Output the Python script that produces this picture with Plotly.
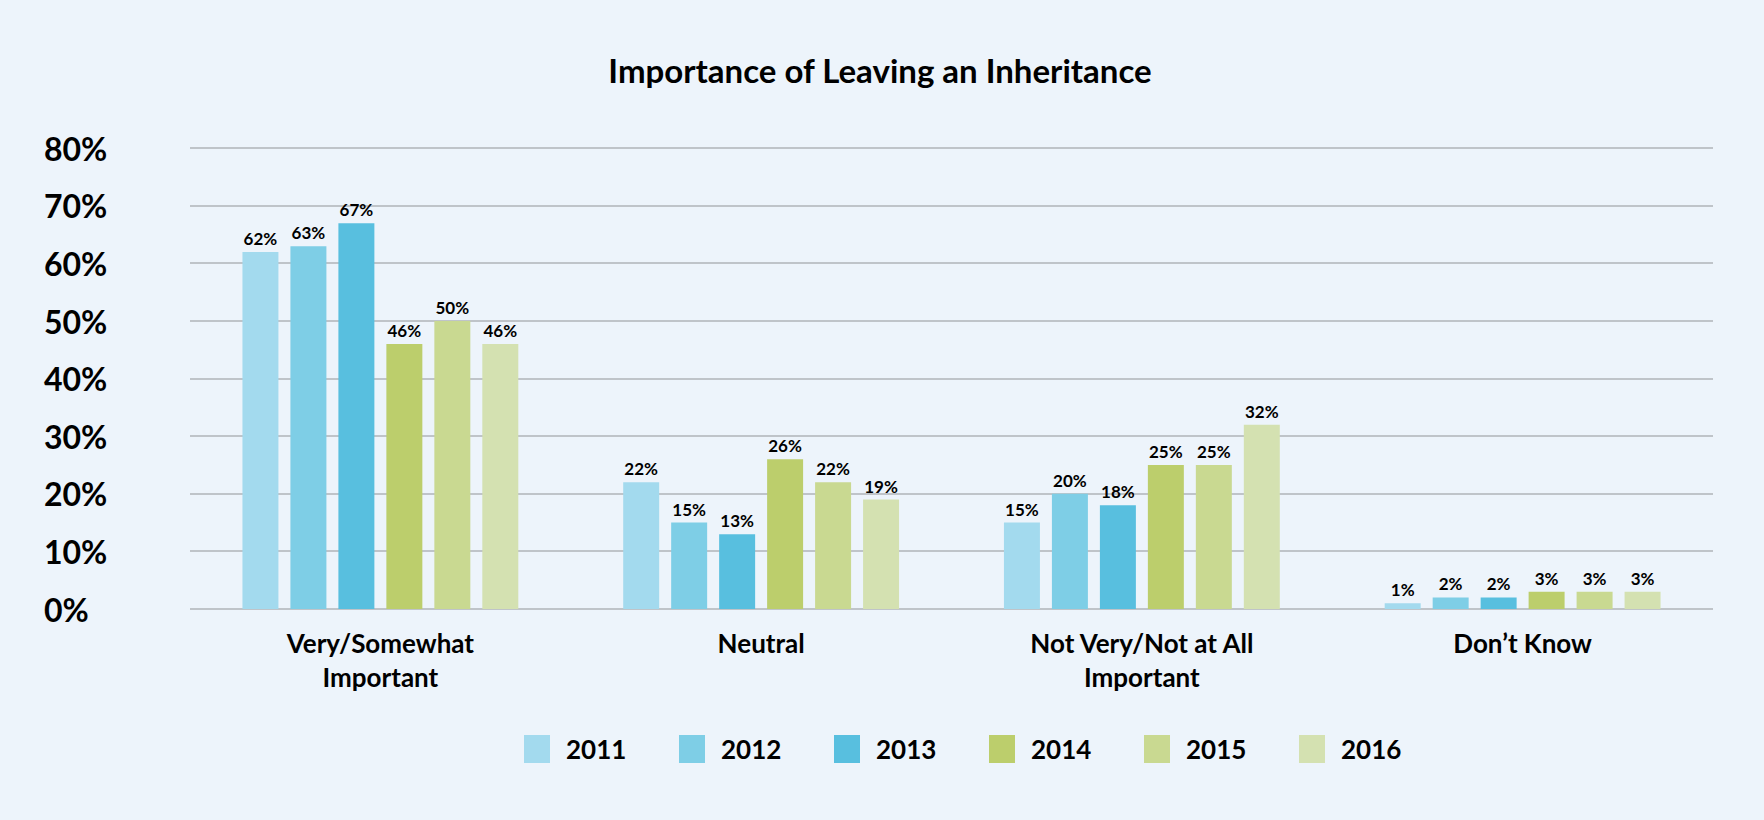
import plotly.graph_objects as go

categories = ["Very/Somewhat<br>Important", "Neutral", "Not Very/Not at All<br>Important", "Don’t Know"]
years = ["2011", "2012", "2013", "2014", "2015", "2016"]
v2011 = [62, 22, 15, 1]
v2012 = [63, 15, 20, 2]
v2013 = [67, 13, 18, 2]
v2014 = [46, 26, 25, 3]
v2015 = [50, 22, 25, 3]
v2016 = [46, 19, 32, 3]
series = [v2011, v2012, v2013, v2014, v2015, v2016]
colors = ["#A3DAEE", "#7ECEE6", "#58BFDF", "#BCCE6C", "#C9D991", "#D4E1B1"]
ytick_vals = [0, 10, 20, 30, 40, 50, 60, 70, 80]
ytick_text = ["0%", "10%", "20%", "30%", "40%", "50%", "60%", "70%", "80%"]

W, H = 1764, 820
Y_TOP = 80.4
PX_PER_UNIT = (609 - 148) / 80
ML, MR, MB = 190, 51, 211
MT = round(148 - (Y_TOP - 80) * PX_PER_UNIT)
PW = W - ML - MR
PH = H - MT - MB
BASE = H - MB
BG = "#EDF4FB"
FONT = "Lato"

fig = go.Figure()
for yr, vals, col in zip(years, series, colors):
    fig.add_trace(go.Bar(
        x=categories, y=vals, name=yr, marker=dict(color=col, line=dict(width=0)),
        text=[f"{v}%" for v in vals], textposition="outside",
        textfont=dict(family=FONT, size=17, color="#000000", weight="bold"),
        cliponaxis=False, showlegend=False,
    ))

annotations = []
for v, t in zip(ytick_vals, ytick_text):
    annotations.append(dict(
        x=(42 - ML) / PW, xref="paper", y=v, yref="y", text=t, showarrow=False,
        xanchor="left", yanchor="middle",
        font=dict(family=FONT, size=32, color="#000000", weight="bold"),
    ))

# custom legend
shapes = []
leg_x0, leg_step, sq_w = 524, 155, 26
sq_top, sq_bot = 735, 763
for i, (yr, col) in enumerate(zip(years, colors)):
    x0 = leg_x0 + i * leg_step
    shapes.append(dict(
        type="rect", xref="paper", yref="paper",
        x0=(x0 - ML) / PW, x1=(x0 + sq_w - ML) / PW,
        y0=(BASE - sq_bot) / PH, y1=(BASE - sq_top) / PH,
        fillcolor=col, line=dict(width=0),
    ))
    annotations.append(dict(
        x=(x0 + sq_w + 14 - ML) / PW, xref="paper",
        y=(BASE - (sq_top + sq_bot) / 2) / PH, yref="paper",
        text=yr, showarrow=False, xanchor="left", yanchor="middle",
        font=dict(family=FONT, size=26, color="#000000", weight="bold"),
    ))

fig.update_layout(
    width=W, height=H,
    margin=dict(l=ML, r=MR, t=MT, b=MB),
    paper_bgcolor=BG, plot_bgcolor=BG,
    barmode="group", bargap=0.244, bargroupgap=0.25,
    title=dict(text="Importance of Leaving an Inheritance", x=(880 - ML) / PW, xref="paper",
               xanchor="center", y=1 - 71 / H, yanchor="middle",
               font=dict(family=FONT, size=33, color="#000000", weight="bold")),
    xaxis=dict(showgrid=False, showline=False, ticks="outside", ticklen=12,
               tickcolor="rgba(0,0,0,0)",
               tickfont=dict(family=FONT, size=26, color="#000000", weight="bold")),
    yaxis=dict(range=[0, Y_TOP], tickvals=ytick_vals, showticklabels=False,
               showgrid=True, gridcolor="#BFC4C9", gridwidth=2,
               zeroline=True, zerolinecolor="#BFC4C9", zerolinewidth=2, showline=False),
    shapes=shapes, annotations=annotations,
    font=dict(family=FONT),
)

fig.write_html("out.html")
